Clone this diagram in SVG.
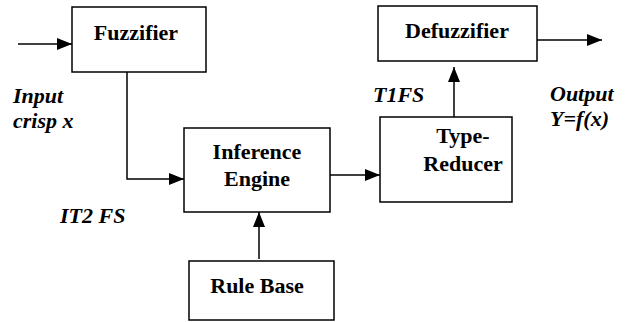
<svg xmlns="http://www.w3.org/2000/svg" width="632" height="322" viewBox="0 0 632 322">
<defs>
<style>
.box{fill:#fff;stroke:#000;stroke-width:1.5}
.con{fill:none;stroke:#000;stroke-width:1.5}
</style>
<marker id="ah" viewBox="0 0 15 12" refX="15" refY="6" markerWidth="15" markerHeight="12" markerUnits="userSpaceOnUse" orient="auto">
<path d="M0,0 L15,6 L0,12 Z" fill="#000"/>
</marker>
</defs>
<rect width="632" height="322" fill="#fff"/>
<g id="connectors">
<line class="con" x1="18" y1="44" x2="72" y2="44" marker-end="url(#ah)"/>
<polyline class="con" points="127,72 127,179 184,179" marker-end="url(#ah)"/>
<line class="con" x1="330" y1="175" x2="380" y2="175" marker-end="url(#ah)"/>
<line class="con" x1="259" y1="259" x2="259" y2="212" marker-end="url(#ah)"/>
<line class="con" x1="454" y1="117" x2="454" y2="67" marker-end="url(#ah)"/>
<line class="con" x1="537" y1="40" x2="602" y2="40" marker-end="url(#ah)"/>
</g>
<g id="fuzzifier">
<rect class="box" x="72" y="7" width="134" height="65"/>
<text x="136" y="40" style="font-family:'Liberation Serif';font-weight:bold;font-size:22px;text-anchor:middle">Fuzzifier</text>
</g>
<g id="inference">
<rect class="box" x="184" y="128" width="146" height="84"/>
<text x="257" y="159" style="font-family:'Liberation Serif';font-weight:bold;font-size:22px;text-anchor:middle">Inference</text>
<text x="257" y="186" style="font-family:'Liberation Serif';font-weight:bold;font-size:22px;text-anchor:middle">Engine</text>
</g>
<g id="rulebase">
<rect class="box" x="189" y="261" width="145" height="59"/>
<text x="257" y="293" style="font-family:'Liberation Serif';font-weight:bold;font-size:22px;text-anchor:middle">Rule Base</text>
</g>
<g id="typereducer">
<rect class="box" x="380" y="117" width="132" height="85"/>
<text x="463" y="143" style="font-family:'Liberation Serif';font-weight:bold;font-size:22px;text-anchor:middle">Type-</text>
<text x="463" y="171" style="font-family:'Liberation Serif';font-weight:bold;font-size:22px;text-anchor:middle">Reducer</text>
</g>
<g id="defuzzifier">
<rect class="box" x="378" y="6" width="159" height="55"/>
<text x="457" y="38" style="font-family:'Liberation Serif';font-weight:bold;font-size:22px;text-anchor:middle">Defuzzifier</text>
</g>
<g id="labels">
<text x="13" y="103" style="font-family:'Liberation Serif';font-weight:bold;font-style:italic;font-size:22px">Input</text>
<text x="13" y="128" style="font-family:'Liberation Serif';font-weight:bold;font-style:italic;font-size:22px">crisp x</text>
<text x="60" y="223" style="font-family:'Liberation Serif';font-weight:bold;font-style:italic;font-size:22px">IT2 FS</text>
<text x="373" y="102" style="font-family:'Liberation Serif';font-weight:bold;font-style:italic;font-size:22px">T1FS</text>
<text x="550" y="101" style="font-family:'Liberation Serif';font-weight:bold;font-style:italic;font-size:22px">Output</text>
<text x="550" y="126" style="font-family:'Liberation Serif';font-weight:bold;font-style:italic;font-size:22px">Y=f(x)</text>
</g>
</svg>
